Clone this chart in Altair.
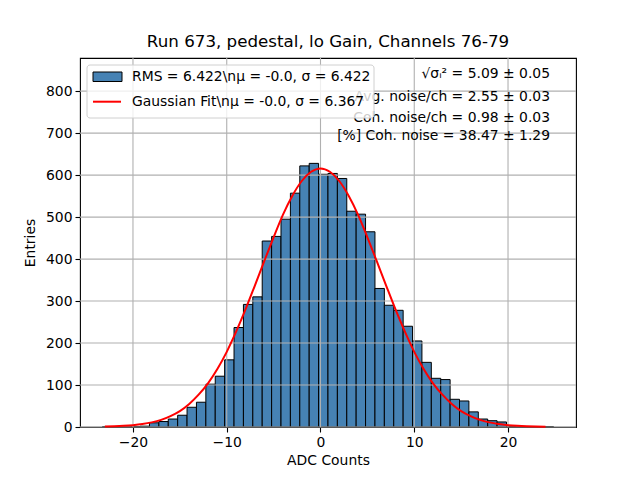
import altair as alt
import pandas as pd

# ---- data ----
bin_start = -23.25
bin_width = 1.002
counts = [1, 0, 0, 1, 2, 10, 13, 19, 28, 47, 59, 102, 121, 160, 237, 292, 310, 443,
          454, 495, 557, 622, 628, 602, 604, 592, 514, 507, 465, 330, 290, 278, 240,
          205, 154, 116, 113, 66, 62, 36, 19, 15, 12, 1, 0, 0, 0, 1]

fit_x = list(range(-23, 25))
fit_y = [0.9, 1.6, 2.7, 4.4, 7, 11, 17, 26, 38, 55, 77, 104, 138, 179, 227, 280, 337,
         395, 452, 506, 551, 586, 608, 616, 608, 586, 551, 506, 452, 395, 337, 280,
         227, 179, 138, 104, 77, 55, 38, 26, 17, 11, 7, 4.4, 2.7, 1.6, 0.9, 0.5]

x_ticks = [-20, -10, 0, 10, 20]
y_ticks = [0, 100, 200, 300, 400, 500, 600, 700, 800]

title_text = "Run 673, pedestal, lo Gain, Channels 76-79"
legend_labels = ["RMS = 6.422\\nμ = -0.0, σ = 6.422",
                 "Gaussian Fit\\nμ = -0.0, σ = 6.367"]
stats_lines = ["√σᵢ² = 5.09 ± 0.05",
               "Avg. noise/ch = 2.55 ± 0.03",
               "Coh. noise/ch = 0.98 ± 0.03",
               "[%] Coh. noise = 38.47 ± 1.29"]

# ---- tables ----
hist_df = pd.DataFrame({
    "lo": [bin_start + i * bin_width for i in range(len(counts))],
    "hi": [bin_start + (i + 1) * bin_width for i in range(len(counts))],
    "count": counts,
})
fit_df = pd.DataFrame({"x": fit_x, "y": fit_y})
gx_df = pd.DataFrame({"v": x_ticks})
gy_df = pd.DataFrame({"v": y_ticks})

FONT = "DejaVu Sans"
xscale = alt.Scale(domain=[-25.65, 27.25], nice=False, zero=False)
yscale = alt.Scale(domain=[0, 879], nice=False, zero=False)
ax_x = alt.Axis(values=x_ticks, title="ADC Counts", grid=False, format="d")
ax_y = alt.Axis(values=y_ticks, title="Entries", grid=False, format="d")

bars = alt.Chart(hist_df).mark_rect(
    fill="#4682b4", stroke="black", strokeWidth=1
).encode(
    x=alt.X("lo:Q", scale=xscale, axis=ax_x),
    x2="hi:Q",
    y=alt.Y("count:Q", scale=yscale, axis=ax_y),
    y2=alt.datum(0),
)

grid_x = alt.Chart(gx_df).mark_rule(color="#b0b0b0", strokeWidth=1.1).encode(
    x=alt.X("v:Q", scale=xscale, axis=ax_x)
)
grid_y = alt.Chart(gy_df).mark_rule(color="#b0b0b0", strokeWidth=1.1).encode(
    y=alt.Y("v:Q", scale=yscale, axis=ax_y)
)

curve = alt.Chart(fit_df).mark_line(
    color="red", strokeWidth=2, interpolate="monotone"
).encode(
    x=alt.X("x:Q", scale=xscale, axis=ax_x),
    y=alt.Y("y:Q", scale=yscale, axis=ax_y),
)

one = alt.Data(values=[{"a": 1}])

stats_y = [16, 39, 60, 77.5]
stats = [
    alt.Chart(one).mark_text(
        text=t, font=FONT, fontSize=13.9, align="right", baseline="middle", color="black"
    ).encode(x=alt.value(470), y=alt.value(yy))
    for t, yy in zip(stats_lines, stats_y)
]

legend_box = alt.Chart(one).mark_rect(
    fill="white", fillOpacity=0.8, stroke="#d0d0d0", strokeWidth=1, cornerRadius=3
).encode(x=alt.value(7), x2=alt.value(294), y=alt.value(7), y2=alt.value(60))

legend_patch = alt.Chart(one).mark_rect(
    fill="#4682b4", stroke="black", strokeWidth=1
).encode(x=alt.value(13), x2=alt.value(42), y=alt.value(14), y2=alt.value(23.5))

legend_line = alt.Chart(one).mark_rule(color="red", strokeWidth=2).encode(
    x=alt.value(13), x2=alt.value(41), y=alt.value(43.7)
)

legend_texts = [
    alt.Chart(one).mark_text(
        text=t, font=FONT, fontSize=13.9, align="left", baseline="middle", color="black"
    ).encode(x=alt.value(52), y=alt.value(yy))
    for t, yy in zip(legend_labels, [18.7, 43.7])
]

chart = alt.layer(
    bars, grid_x, grid_y, curve, *stats, legend_box, legend_patch, legend_line, *legend_texts
).properties(
    width=496,
    height=369,
    title=alt.TitleParams(title_text, font=FONT, fontSize=16.7, fontWeight="normal",
                          anchor="middle", offset=7, color="black"),
    autosize=alt.AutoSizeParams(type="none"),
    padding={"left": 72, "top": 50, "right": 56, "bottom": 45},
).configure_view(
    stroke="black", strokeWidth=1.1
).configure_axis(
    labelFont=FONT, labelFontSize=13.9, labelColor="black",
    titleFont=FONT, titleFontSize=13.9, titleFontWeight="normal", titleColor="black",
    tickColor="black", tickSize=5, tickWidth=1.1, labelPadding=3, domain=False,
).configure_axisX(titlePadding=5).configure_axisY(titlePadding=8)

chart.save("out.html", embed_options={"renderer": "svg", "actions": False})
